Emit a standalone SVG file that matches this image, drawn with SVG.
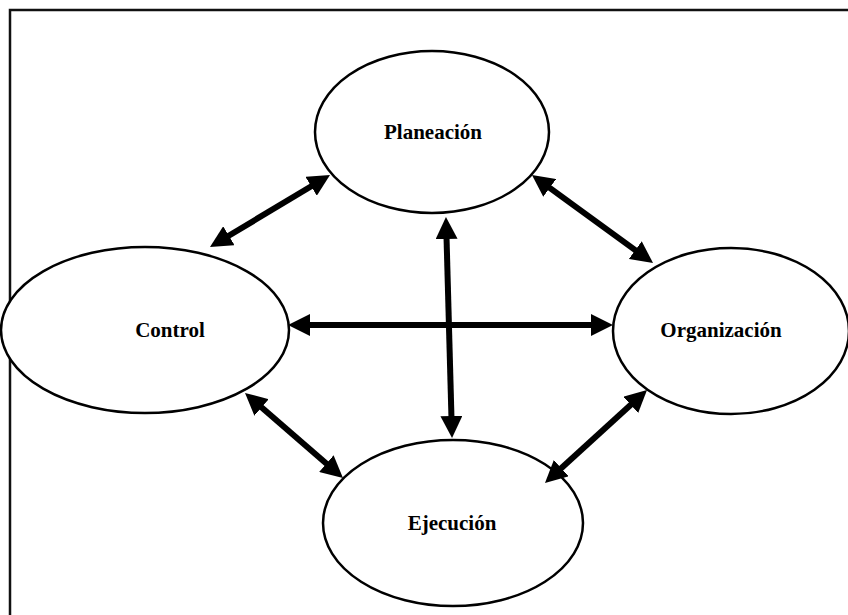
<svg xmlns="http://www.w3.org/2000/svg" width="848" height="615" viewBox="0 0 848 615">
<style>
.node{fill:#fff;stroke:#000;stroke-width:2.5}
.lbl{font-family:'Liberation Serif','DejaVu Serif',serif;font-weight:bold;font-size:21px;text-anchor:middle;fill:#000}
.con{stroke:#000;stroke-width:6;fill:none;marker-start:url(#ah);marker-end:url(#ah)}
</style>
<defs>
<marker id="ah" markerUnits="userSpaceOnUse" viewBox="0 0 22 22" markerWidth="22" markerHeight="22" refX="6" refY="11" orient="auto-start-reverse">
<path d="M0,0 L22,11 L0,22 z" fill="#000"/>
</marker>
</defs>
<rect x="10" y="10" width="860" height="640" fill="#fff" stroke="#111" stroke-width="2.5"/>
<g id="planeacion"><ellipse class="node" cx="432" cy="132" rx="117" ry="81"/><text class="lbl" x="433" y="139">Planeación</text></g>
<g id="control"><ellipse class="node" cx="145" cy="330" rx="144" ry="83"/><text class="lbl" x="170" y="337">Control</text></g>
<g id="organizacion"><ellipse class="node" cx="731" cy="331" rx="118" ry="83"/><text class="lbl" x="721" y="337">Organización</text></g>
<g id="ejecucion"><ellipse class="node" cx="453" cy="523" rx="130" ry="83"/><text class="lbl" x="452" y="530">Ejecución</text></g>
<g id="connectors">
<line class="con" x1="316.3" y1="183.2" x2="223.7" y2="238.8"/>
<line class="con" x1="544.9" y1="184.4" x2="640.1" y2="253.6"/>
<line class="con" x1="304" y1="325" x2="597" y2="325"/>
<line class="con" x1="446.4" y1="233" x2="451.6" y2="422"/>
<line class="con" x1="257.1" y1="403.5" x2="330.9" y2="467.5"/>
<line class="con" x1="635.2" y1="400.8" x2="556.8" y2="472.2"/>
</g>
</svg>
